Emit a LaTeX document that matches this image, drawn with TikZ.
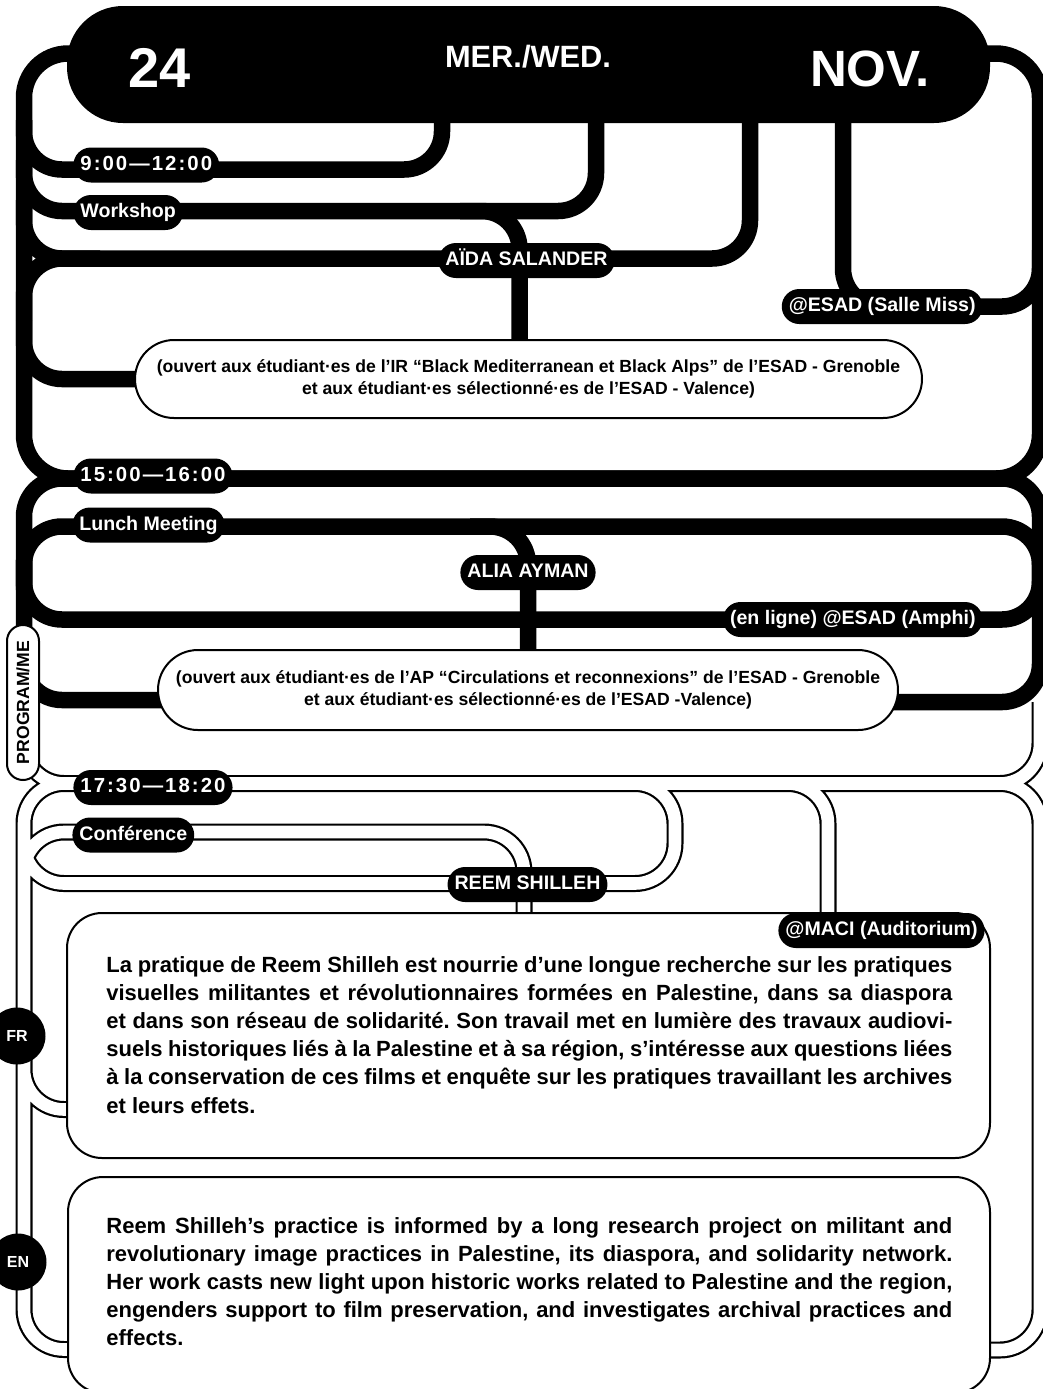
\documentclass[tikz,border=0pt]{standalone}
\usepackage{fontspec}
\setmainfont{Liberation Sans}
\newfontfamily\timefont[LetterSpace=10]{Liberation Sans}
\usetikzlibrary{backgrounds}
\frenchspacing

\tikzset{
  metro/.style={line width=8.25pt, rounded corners=19pt},
  tube/.style={double, double distance=6.3pt, line width=1.1pt, rounded corners=20pt},
  tag/.style={fill=black, text=white, font=\fontsize{9.8}{11}\selectfont\bfseries,
    rounded corners=8.75pt, minimum height=17.5pt, inner xsep=3.5pt, inner ysep=0pt,
    text height=7.2pt, text depth=2pt},
  timetag/.style={tag, font=\timefont\fontsize{10.2}{11}\selectfont\bfseries},
  headtext/.style={text=white, inner sep=0pt, anchor=base},
  infobox/.style={draw, line width=1pt, fill=white, align=center, inner sep=0pt,
    font=\fontsize{8.8}{11}\selectfont\bfseries},
  textbox/.style={draw, line width=1pt, fill=white, rounded corners=17.5pt, inner sep=0pt},
  bodyline/.style={inner sep=0pt, anchor=base west, font=\fontsize{11}{14}\selectfont\bfseries},
  lang/.style={circle, fill=black, text=white, minimum size=28.5pt, inner sep=0pt,
    font=\fontsize{8}{9}\selectfont\bfseries},
}

\begin{document}
\begin{tikzpicture}[x=0.5pt, y=-0.5pt]
\useasboundingbox (0,0) rectangle (1043,1389);

% text boxes
\node[textbox, minimum width=461.5pt, minimum height=122.5pt] (frbox) at (528.5,1035.5) {};
\node[textbox, minimum width=461pt, minimum height=108pt] (enbox) at (529,1285) {};

\foreach \txt [count=\i from 0] in {
  {La pratique de Reem Shilleh est nourrie d’une longue recherche sur les pratiques},
  {visuelles militantes et révolutionnaires formées en Palestine, dans sa diaspora},
  {et dans son réseau de solidarité. Son travail met en lumière des travaux audiovi-},
  {suels historiques liés à la Palestine et à sa région, s’intéresse aux questions liées},
  {à la conservation de ces films et enquête sur les pratiques travaillant les archives},
  {et leurs effets.\hfill}}
  \node[bodyline] (fr\i) at (106, 972+28.2*\i) {\makebox[423pt][s]{\txt}};

\foreach \txt [count=\i from 0] in {
  {Reem Shilleh’s practice is informed by a long research project on militant and},
  {revolutionary image practices in Palestine, its diaspora, and solidarity network.},
  {Her work casts new light upon historic works related to Palestine and the region,},
  {engenders support to film preservation, and investigates archival practices and},
  {effects.\hfill}}
  \node[bodyline] (en\i) at (106, 1233+28.2*\i) {\makebox[423pt][s]{\txt}};

% info boxes
\node[infobox, minimum width=393.5pt, minimum height=39pt, rounded corners=19.5pt] (infoA) at (528.5,379)
  {(ouvert aux étudiant·es de l’IR “Black Mediterranean et Black Alps” de l’ESAD - Grenoble\\
   et aux étudiant·es sélectionné·es de l’ESAD - Valence)};
\node[infobox, minimum width=370pt, minimum height=40pt, rounded corners=20pt] (infoB) at (528,690)
  {(ouvert aux étudiant·es de l’AP “Circulations et reconnexions” de l’ESAD - Grenoble\\
   et aux étudiant·es sélectionné·es de l’ESAD -Valence)};

\begin{scope}[on background layer]
% evening lines
\draw[tube]
  (24,700) |- (1040,783.5) |- (980,1350)
  (1040,702) |- (24,783.5) |- (80,1349.5)
  (524,920) |- (24,832) -- (24,900)
  (24,833) |- (675,883.5) |- (600,783.5)
  (780,783.5) -| (828,920)
  (24,1050) |- (80,1109.5);
% morning lines
\draw[metro, rounded corners=22pt] (80,53.5) -- (24,53.5) -- (24,478.5) -- (1040,478.5) -- (1040,53.5) -- (980,53.5);
\draw[metro] (24,120) |- (442,169.5) -- (442,100);
\draw[metro] (24,160) |- (596,211) -- (596,100);
\draw[metro] (460,211) -| (519.5,360);
\draw[metro] (24,200) |- (750,258.5) -- (750,100);
\draw[metro] (24,320) |- (100,258.5);
\draw[metro] (24,320) |- ([xshift=5pt]infoA.west);
\draw[metro] (843,100) |- (1040,306.5) -- (1040,250);
% afternoon lines
\draw[metro] (175,700) -- (24,700) -- (24,478.5) -- (1040,478.5) -- (1040,702) -- (885,702);
\draw[metro] (24,590) |- (1040,526.5) -- (1040,590);
\draw[metro] (470,526.5) -| (infoB.center);
\draw[metro] (24,560) |- (1040,619.5) -- (1040,560);
\end{scope}

% header
\node[fill=black, rounded corners=28pt, minimum width=461.5pt, minimum height=58.5pt, inner sep=0pt] (header) at (528.5,64.5) {};
\node[headtext, font=\fontsize{28}{30}\selectfont\bfseries] (day) at (160,87) {24};
\node[headtext, font=\fontsize{15.4}{17}\selectfont\bfseries] (weekday) at (528,67) {MER./WED.};
\node[headtext, font=\fontsize{25.5}{28}\selectfont\bfseries] (month) at (870,86) {NOV.};

% tags
\node[timetag, anchor=west] (timeA) at (73,165) {9:00—12:00};
\node[tag, anchor=west] (kindA) at (73,212.5) {Workshop};
\node[tag] (nameA) at (526.5,260.5) {AÏDA SALANDER};
\node[tag, anchor=east] (placeA) at (983,306.5) {@ESAD (Salle Miss)};
\node[timetag, anchor=west] (timeB) at (73,476) {15:00—16:00};
\node[tag, anchor=west] (kindB) at (72,525) {Lunch Meeting};
\node[tag] (nameB) at (528,572.5) {ALIA AYMAN};
\node[tag, anchor=east] (placeB) at (983,619.5) {(en ligne) @ESAD (Amphi)};
\node[timetag, anchor=west] (timeC) at (73,787.5) {17:30—18:20};
\node[tag, anchor=west] (kindC) at (72,835) {Conférence};
\node[tag] (nameC) at (527.5,884.5) {REEM SHILLEH};
\node[tag, anchor=east] (placeC) at (985,930.5) {@MACI (Auditorium)};

% side labels
\node[draw, line width=1pt, fill=white, rounded corners=8pt, rotate=90, minimum width=77.5pt,
  minimum height=16pt, inner sep=0pt, font=\fontsize{8.8}{10}\selectfont\bfseries] (program) at (23,702.5) {PROGRAM/ME};
\node[lang] (fr) at (17,1036) {FR};
\node[lang] (en) at (18,1262) {EN};

\end{tikzpicture}
\end{document}
